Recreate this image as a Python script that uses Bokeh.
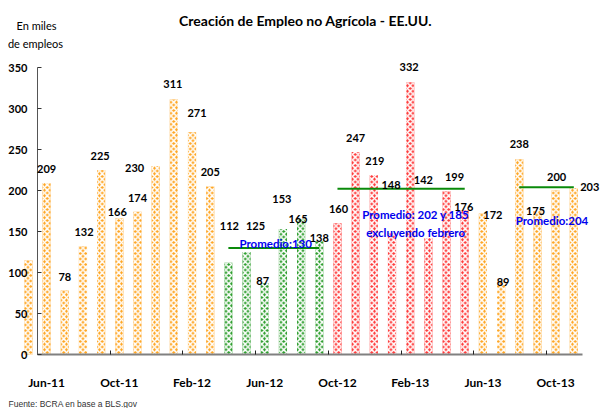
from bokeh.plotting import figure
from bokeh.models import (ColumnDataSource, FixedTicker, LabelSet, Label, Range1d)
from bokeh.core.properties import value
from bokeh.embed import file_html
from bokeh.resources import INLINE
import numpy as np

# ---------------- data ----------------
months = ["May-11", "Jun-11", "Jul-11", "Aug-11", "Sep-11", "Oct-11", "Nov-11", "Dec-11",
          "Jan-12", "Feb-12", "Mar-12", "Apr-12", "May-12", "Jun-12", "Jul-12", "Aug-12",
          "Sep-12", "Oct-12", "Nov-12", "Dec-12", "Jan-13", "Feb-13", "Mar-13", "Apr-13",
          "May-13", "Jun-13", "Jul-13", "Aug-13", "Sep-13", "Oct-13", "Nov-13"]
values = [115, 209, 78, 132, 225, 166, 174, 230, 311, 271, 205, 112, 125, 87, 153, 165,
          138, 160, 247, 219, 148, 332, 142, 199, 176, 172, 89, 238, 175, 200, 203]
# period group of each bar
groups = (["base"] * 11 + ["p1"] * 6 + ["p2"] * 8 + ["base"] * 6)
# whether the value is printed
show_label = [False] + [True] * 30
tick_labels = ["Jun-11", "Oct-11", "Feb-12", "Jun-12", "Oct-12", "Feb-13", "Jun-13", "Oct-13"]
# averages: (first month, last month, value)
averages = [("Apr-12", "Sep-12", 130), ("Oct-12", "May-13", 202), ("Aug-13", "Nov-13", 204)]
avg_texts = ["Promedio:130", "Promedio: 202 y 185", "Promedio:204"]
yticks = [0, 50, 100, 150, 200, 250, 300, 350]

# ---------------- styles ----------------
group_color = {"base": "#FFA623", "p1": "#2E9E2E", "p2": "#FF3B3B"}
# label nudges in pixels (dx, dy) per bar (layout only)
nudges = [(0, 14), (0, 14), (0, 14), (1, 14), (-1, 14), (-2, 6), (0, 14), (-21, -2), (-1, 15),
          (5, 19), (0, 14), (1, 37), (9, 26), (-2, 2), (-1, 30), (-3, 0), (0, 3), (1, 14),
          (0, 14), (1, 14), (-1, 48), (-1, 15), (-5, 58), (8, 14), (-1, 3), (10, -2), (2, 0),
          (0, 15), (-2, 0), (1, 14), (16, 1)]

FONT = "Lato"
W, H = 600, 408
PX_X = 18.18          # pixels per month
PX_Y = 287 / 350      # pixels per thousand jobs
AX_X, AX_Y = 37, 354  # pixel position of the axes corner

first_idx = months.index(tick_labels[0])
x0 = (first_idx - 0.5) - AX_X / PX_X
y0 = -(H - AX_Y) / PX_Y

x = np.arange(len(months))
src = ColumnDataSource(dict(
    x=x, top=values, color=[group_color[g] for g in groups],
    txt=[str(v) if s else "" for v, s in zip(values, show_label)],
    dx=[n[0] for n in nudges], dy=[n[1] for n in nudges],
))

p = figure(width=W, height=H, output_backend="svg", toolbar_location=None,
           x_range=Range1d(x0, x0 + W / PX_X), y_range=Range1d(y0, y0 + H / PX_Y),
           min_border=0)
p.outline_line_color = None
p.grid.visible = False
p.background_fill_color = "white"

p.vbar(x="x", top="top", width=0.45, source=src, fill_color="color", line_color=None,
       hatch_pattern="x", hatch_color="white", hatch_scale=5.5, hatch_weight=1.6)

# average lines
for (m0, m1, v) in averages:
    i0, i1 = months.index(m0), months.index(m1)
    p.line([i0, i1], [v, v], line_color="#0A8A0A", line_width=2)

# value labels
labels = LabelSet(x="x", y="top", text="txt", x_offset="dx", y_offset="dy", source=src,
                  text_align="center", text_baseline="middle", text_font=value(FONT),
                  text_font_style="bold", text_font_size="11px", text_color="black")
p.add_layout(labels)

# axes (drawn at fixed locations inside the canvas)
p.yaxis.fixed_location = first_idx - 0.5
p.yaxis.ticker = FixedTicker(ticks=yticks)
p.yaxis.bounds = (0, 350)
p.yaxis.major_tick_in = 4
p.yaxis.major_tick_out = 0
p.yaxis.minor_tick_line_color = None
p.yaxis.axis_line_color = "#555555"
p.yaxis.major_tick_line_color = "#333333"
p.yaxis.major_label_standoff = 10
p.yaxis.major_label_text_font = FONT
p.yaxis.major_label_text_font_style = "bold"
p.yaxis.major_label_text_font_size = "11px"
p.yaxis.major_label_text_color = "black"

tick_pos = [months.index(t) for t in tick_labels]
p.xaxis.fixed_location = 0
p.xaxis.ticker = FixedTicker(ticks=tick_pos, minor_ticks=[t - 0.5 for t in tick_pos])
p.xaxis.major_label_overrides = {t: l for t, l in zip(tick_pos, tick_labels)}
p.xaxis.bounds = (first_idx - 0.5, len(months) - 0.5)
p.xaxis.major_tick_line_color = None
p.xaxis.minor_tick_in = 4
p.xaxis.minor_tick_out = 0
p.xaxis.minor_tick_line_color = "#222222"
p.xaxis.axis_line_color = "#808080"
p.xaxis.axis_line_width = 2
p.xaxis.major_label_standoff = 14
p.xaxis.major_label_text_font = FONT
p.xaxis.major_label_text_font_style = "bold"
p.xaxis.major_label_text_font_size = "12px"
p.xaxis.major_label_text_color = "black"

# average annotations (blue)
def blue(text, xv, yv):
    p.add_layout(Label(x=xv, y=yv, text=text, text_align="center", text_baseline="middle",
                       text_font=FONT, text_font_style="bold", text_font_size="11.5px",
                       text_color="#0000EE"))

blue(avg_texts[0], 13.6, 135)
blue(avg_texts[1], 21.3, 171)
blue("excluyendo febrero", 21.3, 149)
blue(avg_texts[2], 28.8, 163)

# titles / notes, given in page pixels and converted to data coordinates
def note(text, px, py, size, style="normal", align="center", font=FONT, color="black"):
    p.add_layout(Label(x=x0 + px / PX_X, y=(AX_Y - py) / PX_Y, text=text,
                       text_align=align, text_baseline="middle", text_font=font,
                       text_font_style=style, text_font_size=size, text_color=color))

note("Creación de Empleo no Agrícola - EE.UU.", 305, 20, "14px", "bold")
note("En miles", 36, 25, "11px")
note("de empleos", 35, 43, "11px")
note("Fuente: BCRA en base a BLS.gov", 8, 403, "8.5px", align="left",
     font="Liberation Sans", color="#333333")

open("out.html", "w").write(file_html(p, INLINE))
